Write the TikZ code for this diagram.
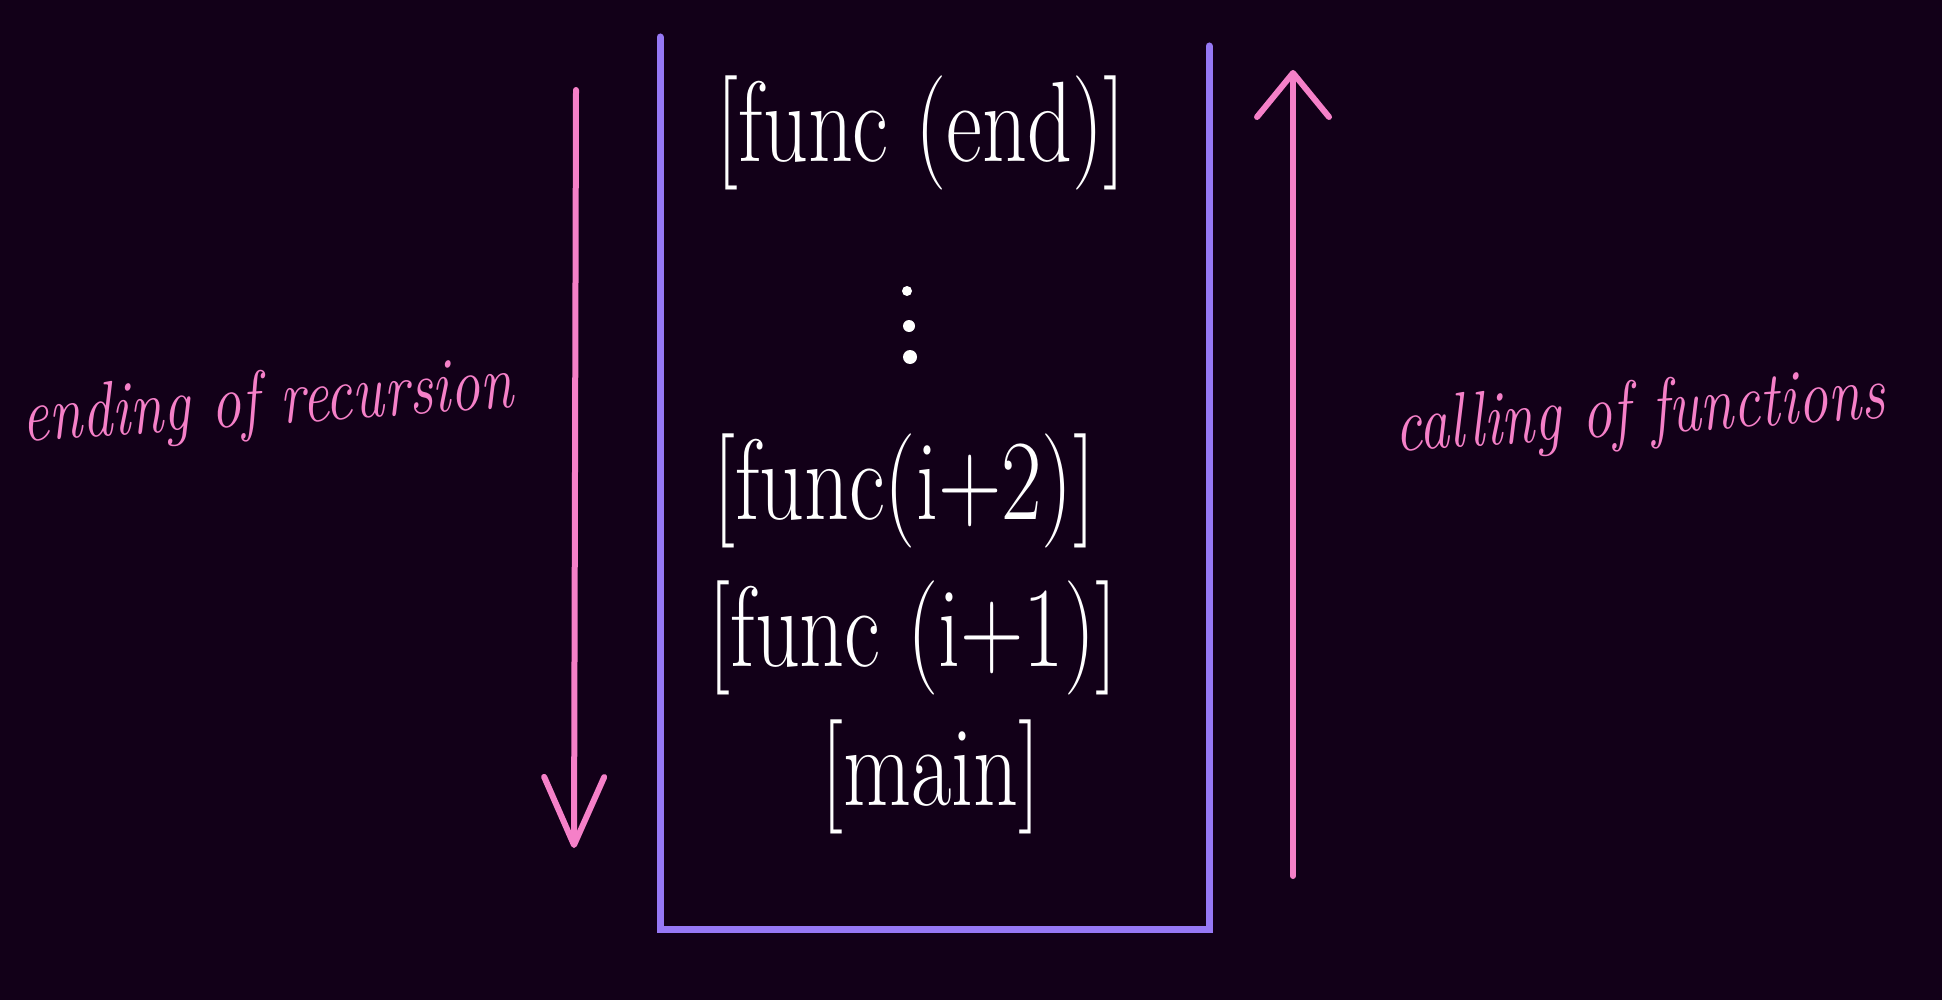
\documentclass[tikz,border=0pt]{standalone}
\usetikzlibrary{arrows.meta}
\definecolor{bgcol}{RGB}{18,0,24}
\definecolor{stackcol}{RGB}{150,120,245}
\definecolor{pinkcol}{RGB}{245,128,200}
\newcommand{\tallish}[1]{\scalebox{1}[1.3]{#1}}
\begin{document}
\begin{tikzpicture}[x=0.5pt,y=-0.5pt,
  stackline/.style={draw=stackcol,line width=3.5pt,line cap=round,line join=miter},
  flowarrow/.style={draw=pinkcol,line width=3pt,line cap=round},
  frame/.style={text=white,font=\fontsize{44}{48}\selectfont,inner sep=0pt},
  sidelabel/.style={text=pinkcol,font=\fontsize{30}{32}\selectfont\itshape,inner sep=0pt},
  dotmark/.style={fill=white,draw=none,circle,inner sep=0pt}]
\fill[bgcol] (0,0) rectangle (1942,1000);
\useasboundingbox (0,0) rectangle (1942,1000);
% stack container
\coordinate (tl) at (660,37);
\coordinate (bl) at (660,929);
\coordinate (br) at (1209,929);
\coordinate (tr) at (1209,46);
\draw[stackline] (tl) -- (bl) -- (br) -- (tr);
% stack frames
\node[frame] (fend) at (921,133) {\tallish{[func (end)]}};
\node[dotmark,minimum size=5pt] (d1) at (907,291) {};
\node[dotmark,minimum size=6pt] (d2) at (909,326) {};
\node[dotmark,minimum size=7pt] (d3) at (910,357) {};
\node[frame] (f2) at (904,491) {\tallish{[func(i+2)]}};
\node[frame] (f1) at (913,638) {\tallish{[func (i+1)]}};
\node[frame] (fmain) at (931,777) {\tallish{[main]}};
% arrows
\coordinate (la1) at (576,90);
\coordinate (la2) at (574,848);
\draw[flowarrow,-{Straight Barb[length=34pt,width=30pt,line cap=round,line join=round]}] (la1) -- (la2);
\coordinate (ra1) at (1293,876);
\coordinate (ra2) at (1293,70);
\draw[flowarrow,-{Straight Barb[length=22pt,width=36pt,line cap=round,line join=round]}] (ra1) -- (ra2);
% side labels
\node[sidelabel,rotate=4] (lend) at (268,405) {\tallish{ending of recursion}};
\node[sidelabel,rotate=4] (lcall) at (1640,415) {\tallish{calling of functions}};
\end{tikzpicture}
\end{document}
